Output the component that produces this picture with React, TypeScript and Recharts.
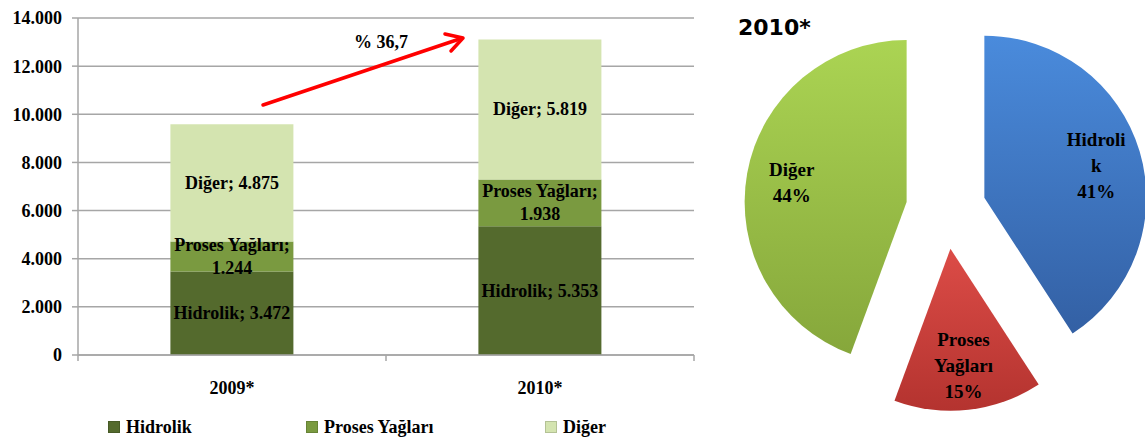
import React from 'react';
import { BarChart, Bar, XAxis, YAxis, CartesianGrid, Legend, LabelList, PieChart, Pie, Cell, Sector } from 'recharts';

const YEARS = ['2009*', '2010*'];
const SERIES = ['Hidrolik', 'Proses Yağları', 'Diğer'];
const HIDROLIK = [3472, 5353];
const PROSES = [1244, 1938];
const DIGER = [4875, 5819];
const Y_TICKS = [0, 2000, 4000, 6000, 8000, 10000, 12000, 14000];

const GROWTH_LABEL = '% 36,7';

const PIE_TITLE = '2010*';
const PIE_NAMES = ['Hidrolik', 'Proses Yağları', 'Diğer'];
const PIE_VALUES = [HIDROLIK[1], PROSES[1], DIGER[1]];
// wrapped the way the original slice labels break
const PIE_LABEL_LINES = [['Hidroli', 'k'], ['Proses', 'Yağları'], ['Diğer']];

const BAR_COLORS = ['#546a2d', '#7a9a40', '#d4e4b0'];
const PIE_COLORS = [
    ['#4a8bdc', '#3360a4'],
    ['#dc4c47', '#b4332f'],
    ['#abd453', '#86a73b'],
];

const SERIF = '"Liberation Serif", "Times New Roman", serif';
const GRID = '#a6a6a6';
const RAD = Math.PI / 180;
const EXPLODE = 40;

const fmt = (v: number) => String(v).replace(/\B(?=(\d{3})+(?!\d))/g, '.');

const barData = YEARS.map((year, i) => ({
    year,
    hidrolik: HIDROLIK[i],
    proses: PROSES[i],
    diger: DIGER[i],
}));

const pieData = PIE_NAMES.map((name, i) => ({ name, value: PIE_VALUES[i] }));

const segLabel = (name: string) => (p: any) => {
    const { x, y, width, height, value } = p;
    const full = `${name}; ${fmt(value)}`;
    const lines = full.length > 16 ? [`${name};`, fmt(value)] : [full];
    const cx = x + width / 2;
    const lh = 23;
    const top = y + height / 2 - ((lines.length - 1) * lh) / 2;
    return (
        <text x={cx} y={top} textAnchor="middle" dominantBaseline="central"
            style={{ fontFamily: SERIF, fontSize: 18, fontWeight: 700, fill: '#000' }}>
            {lines.map((l, i) => (
                <tspan key={i} x={cx} dy={i === 0 ? 0 : lh}>{l}</tspan>
            ))}
        </text>
    );
};

const XTick = (p: any) => {
    const { x, y, payload, index, visibleTicksCount, width } = p;
    const axisY = y - 27;
    const band = width && visibleTicksCount ? width / visibleTicksCount : 0;
    return (
        <g>
            {band > 0 && (
                <line x1={x - band / 2} x2={x - band / 2} y1={axisY} y2={axisY + 6} stroke={GRID} strokeWidth={1.5} />
            )}
            {band > 0 && index === visibleTicksCount - 1 && (
                <line x1={x + band / 2} x2={x + band / 2} y1={axisY} y2={axisY + 6} stroke={GRID} strokeWidth={1.5} />
            )}
            <text x={x} y={y + 12} textAnchor="middle"
                style={{ fontFamily: SERIF, fontSize: 18, fontWeight: 700, fill: '#000' }}>
                {payload.value}
            </text>
        </g>
    );
};

const LEGEND_LEFT = [108, 306, 545];

const renderLegend = (p: any) => {
    const items = [...(p.payload || [])].sort(
        (a: any, b: any) => SERIES.indexOf(a.value) - SERIES.indexOf(b.value),
    );
    return (
        <div style={{ position: 'relative', height: 39 }}>
            {items.map((it: any, i: number) => (
                <div key={i} style={{
                    position: 'absolute', left: LEGEND_LEFT[i], top: 17, display: 'flex', alignItems: 'center',
                    fontFamily: SERIF, fontSize: 18, fontWeight: 700, color: '#000', lineHeight: '20px',
                }}>
                    <span style={{ width: 10, height: 10, background: it.color, border: '1px solid rgba(0,0,0,0.15)', marginRight: 6, display: 'inline-block' }} />
                    {it.value}
                </div>
            ))}
        </div>
    );
};

const renderSlice = (p: any) => {
    const { cx, cy, midAngle, outerRadius, startAngle, endAngle, percent, index } = p;
    const ux = Math.cos(-midAngle * RAD);
    const uy = Math.sin(-midAngle * RAD);
    const ax = cx + EXPLODE * ux;
    const ay = cy + EXPLODE * uy;
    const lr = outerRadius * 0.72;
    const lx = ax + lr * ux;
    const ly = ay + lr * uy;
    const lines = [...PIE_LABEL_LINES[index], `${Math.round(percent * 100)}%`];
    const lh = 26;
    const top = ly - ((lines.length - 1) * lh) / 2;
    const [c1, c2] = PIE_COLORS[index];
    return (
        <g>
            <defs>
                <linearGradient id={`pg${index}`} x1="0" y1="0" x2="0" y2="1">
                    <stop offset="0" stopColor={c1} />
                    <stop offset="1" stopColor={c2} />
                </linearGradient>
            </defs>
            <Sector cx={ax} cy={ay} innerRadius={0} outerRadius={outerRadius}
                startAngle={startAngle} endAngle={endAngle} fill={`url(#pg${index})`} stroke="none" />
            <text x={lx} y={top} textAnchor="middle" dominantBaseline="central"
                style={{ fontFamily: SERIF, fontSize: 19, fontWeight: 700, fill: '#000' }}>
                {lines.map((l, i) => (
                    <tspan key={i} x={lx} dy={i === 0 ? 0 : lh}>{l}</tspan>
                ))}
            </text>
        </g>
    );
};

export default function App() {
    return (
        <div style={{ position: 'absolute', left: 0, top: 0, width: 1145, height: 439, background: '#fff', overflow: 'hidden' }}>
            <div style={{ position: 'absolute', left: 0, top: 0 }}>
                <BarChart width={720} height={439} data={barData} margin={{ top: 18, right: 26, left: 0, bottom: 0 }} barCategoryGap="30%">
                    <CartesianGrid vertical={false} stroke={GRID} strokeWidth={1.5} />
                    <XAxis dataKey="year" height={45} tickSize={6} tickMargin={21} tickLine={false}
                        axisLine={{ stroke: GRID, strokeWidth: 1.5 }} tick={<XTick />} interval={0} />
                    <YAxis width={78} domain={[0, 14000]} ticks={Y_TICKS} tickFormatter={fmt} tickSize={6} tickMargin={10}
                        axisLine={{ stroke: GRID, strokeWidth: 1.5 }} tickLine={{ stroke: GRID, strokeWidth: 1.5 }}
                        tick={{ fontFamily: SERIF, fontSize: 18, fontWeight: 700, fill: '#000' }} />
                    <Legend verticalAlign="bottom" height={39} content={renderLegend} />
                    <Bar dataKey="hidrolik" name={SERIES[0]} stackId="a" fill={BAR_COLORS[0]} isAnimationActive={false}>
                        <LabelList dataKey="hidrolik" content={segLabel(SERIES[0])} />
                    </Bar>
                    <Bar dataKey="proses" name={SERIES[1]} stackId="a" fill={BAR_COLORS[1]} isAnimationActive={false}>
                        <LabelList dataKey="proses" content={segLabel(SERIES[1])} />
                    </Bar>
                    <Bar dataKey="diger" name={SERIES[2]} stackId="a" fill={BAR_COLORS[2]} isAnimationActive={false}>
                        <LabelList dataKey="diger" content={segLabel(SERIES[2])} />
                    </Bar>
                </BarChart>
                <svg width={720} height={439} style={{ position: 'absolute', left: 0, top: 0, pointerEvents: 'none' }}>
                    <line x1={263} y1={105} x2={461} y2={38.5} stroke="#ff0000" strokeWidth={3.5} strokeLinecap="round" />
                    <polyline points="445,34 463,38 451,51" fill="none" stroke="#ff0000" strokeWidth={3.5} strokeLinecap="round" strokeLinejoin="round" />
                    <text x={354} y={48} style={{ fontFamily: SERIF, fontSize: 18, fontWeight: 700, fill: '#000' }}>{GROWTH_LABEL}</text>
                </svg>
            </div>
            <div style={{ position: 'absolute', left: 700, top: 0 }}>
                <PieChart width={445} height={439}>
                    <Pie data={pieData} dataKey="value" nameKey="name" cx={241} cy={204} outerRadius={162}
                        startAngle={90} endAngle={-270} stroke="none" isAnimationActive={false}
                        labelLine={false} label={renderSlice}>
                        {pieData.map((d, i) => (
                            <Cell key={i} fill="transparent" />
                        ))}
                    </Pie>
                </PieChart>
            </div>
            <div style={{ position: 'absolute', left: 738, top: 17, fontFamily: '"DejaVu Sans", sans-serif', fontWeight: 700, fontSize: 22, lineHeight: '22px', color: '#000' }}>
                {PIE_TITLE}
            </div>
        </div>
    );
}
